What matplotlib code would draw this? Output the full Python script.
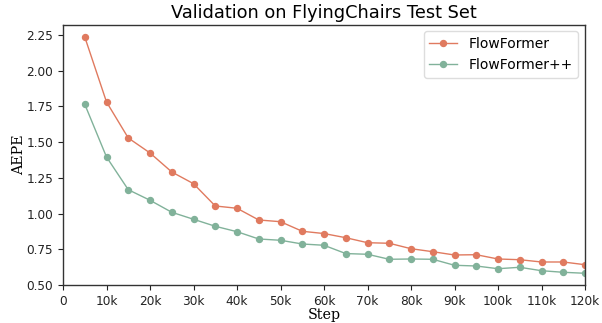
import matplotlib
matplotlib.use("Agg")
import matplotlib.pyplot as plt
from matplotlib.ticker import FuncFormatter

# Steps (in thousands) and validation AEPE
steps = [5, 10, 15, 20, 25, 30, 35, 40, 45, 50, 55, 60,
         65, 70, 75, 80, 85, 90, 95, 100, 105, 110, 115, 120]
flowformer = [2.236, 1.781, 1.529, 1.424, 1.291, 1.209, 1.053, 1.037, 0.955, 0.943, 0.876, 0.860,
              0.831, 0.796, 0.792, 0.754, 0.733, 0.710, 0.712, 0.682, 0.677, 0.661, 0.661, 0.642]
flowformer_pp = [1.765, 1.396, 1.167, 1.093, 1.009, 0.960, 0.911, 0.873, 0.822, 0.813, 0.787, 0.778,
                 0.720, 0.715, 0.680, 0.682, 0.680, 0.638, 0.633, 0.614, 0.624, 0.600, 0.589, 0.582]

x = [s * 1000 for s in steps]

fig = plt.figure(figsize=(6.02, 3.23), dpi=100)
ax = fig.add_axes([63 / 602, 1 - 285 / 323, (585 - 63) / 602, (285 - 24.5) / 323])

ax.plot(x, flowformer, color="#E07A5F", marker="o", markersize=4.3, linewidth=1.0, label="FlowFormer")
ax.plot(x, flowformer_pp, color="#81B29A", marker="o", markersize=4.3, linewidth=1.0, label="FlowFormer++")

ax.set_xlim(0, 120000)
ax.set_ylim(0.5, 2.323)
ax.set_xticks(range(0, 120001, 10000))
ax.xaxis.set_major_formatter(FuncFormatter(lambda v, p: "0" if v == 0 else f"{int(v / 1000)}k"))
ax.set_yticks([0.5, 0.75, 1.0, 1.25, 1.5, 1.75, 2.0, 2.25])
ax.tick_params(labelsize=8.7, length=3.5, colors="#222222")

for s in ax.spines.values():
    s.set_color("#333333")
    s.set_linewidth(1.0)

ax.set_xlabel("Step", family="DejaVu Serif", fontsize=10.3, labelpad=0)
ax.set_ylabel("AEPE", family="DejaVu Serif", fontsize=10.3, labelpad=0.5)
ax.set_title("Validation on FlyingChairs Test Set", fontsize=12.8, pad=5)
ax.legend(loc="upper right", fontsize=10, framealpha=1, edgecolor="#dddddd")

fig.savefig("out.png", dpi=100)
